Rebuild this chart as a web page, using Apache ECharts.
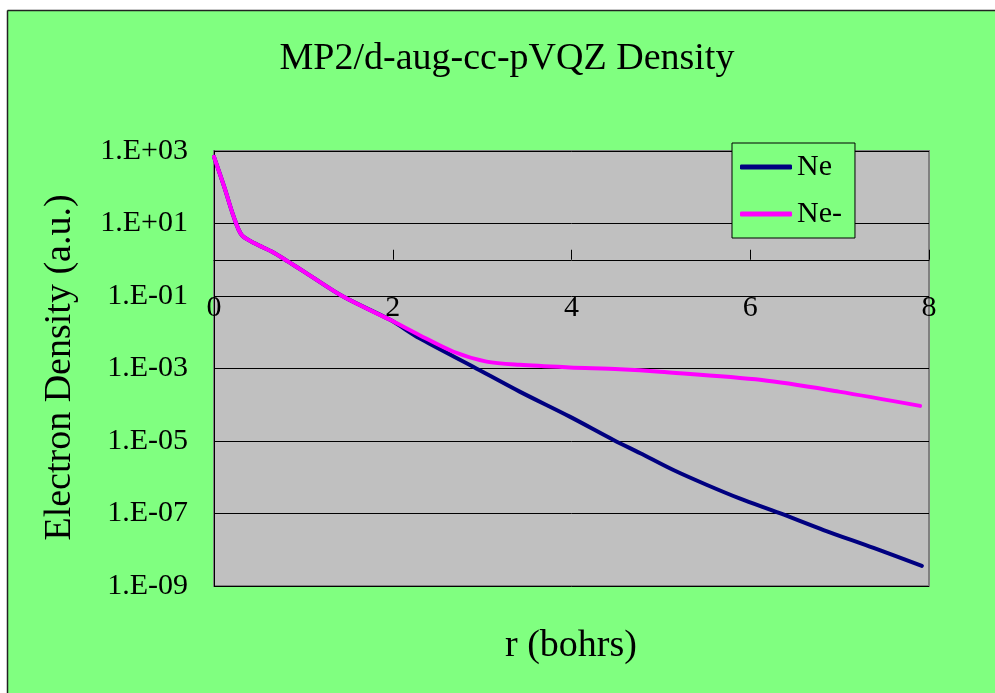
<!DOCTYPE html>
<html>
<head>
<meta charset="utf-8">
<script src="https://cdn.jsdelivr.net/npm/echarts@6/dist/echarts.min.js"></script>
<style>html,body{margin:0;padding:0;background:#fff;}#c{width:995px;height:693px;}</style>
</head>
<body>
<div id="c"></div>
<script>
// Data (r in bohrs, density in a.u.)
var rNe      = [0, 0.12, 0.22, 0.31, 0.46, 0.65, 0.83, 1.02, 1.45, 1.97, 2.3, 2.9, 3.42, 3.98, 4.47, 4.77, 5.14, 5.51, 5.88, 6.33, 6.82, 7.38, 7.92];
var densNe   = [690, 93, 15.5, 4.8, 2.8, 1.66, 0.89, 0.45, 0.095, 0.022, 6.8e-3, 1.12e-3, 2.3e-4, 4.7e-5, 1.07e-5, 4.6e-6, 1.58e-6, 6.2e-7, 2.6e-7, 1.02e-7, 3.5e-8, 1.12e-8, 3.6e-9];
var rNeM     = [0, 0.12, 0.22, 0.31, 0.46, 0.65, 0.83, 1.02, 1.45, 1.97, 2.3, 2.68, 3.05, 3.42, 3.98, 4.54, 4.99, 6.13, 6.99, 7.9];
var densNeM  = [690, 93, 15.5, 4.8, 2.8, 1.66, 0.89, 0.45, 0.095, 0.022, 8.3e-3, 2.9e-3, 1.55e-3, 1.26e-3, 1.07e-3, 9.5e-4, 8.1e-4, 4.8e-4, 2.3e-4, 9.3e-5];
var seriesNames = ['Ne', 'Ne-'];
var xTicks = [0, 2, 4, 6, 8];

var FONT = '"Liberation Serif", "Times New Roman", serif';
function pairs(xs, ys) { return xs.map(function (x, i) { return [x, ys[i]]; }); }

var chart = echarts.init(document.getElementById('c'), null, {renderer: 'canvas'});
chart.setOption({
  backgroundColor: '#80FF80',
  animation: false,
  grid: [
    {left: 214, top: 151, width: 715, height: 435, show: true, backgroundColor: '#C0C0C0', borderColor: '#808080', borderWidth: 2},
    {left: 214, top: 151, width: 715, height: 108.75, show: false}
  ],
  xAxis: [
    {type: 'value', gridIndex: 0, min: xTicks[0], max: xTicks[xTicks.length - 1], interval: 2, show: false},
    {type: 'value', gridIndex: 1, min: xTicks[0], max: xTicks[xTicks.length - 1], interval: 2, position: 'bottom',
     axisLine: {show: true, lineStyle: {color: '#000', width: 1}},
     axisTick: {show: true, inside: true, length: 10, lineStyle: {color: '#000'}},
     axisLabel: {show: true, margin: 33, fontSize: 30, fontFamily: FONT, color: '#000'},
     splitLine: {show: false}}
  ],
  yAxis: [
    {type: 'log', logBase: 10, gridIndex: 0, min: 1e-9, max: 1e3, interval: 2,
     axisLine: {show: true, lineStyle: {color: '#000', width: 1}},
     axisTick: {show: true, inside: true, length: 9, lineStyle: {color: '#000'}},
     axisLabel: {margin: 26, fontSize: 30, fontFamily: FONT, color: '#000', padding: [4, 0, 0, 0],
       formatter: function (v) {
         var e = Math.round(Math.log10(v));
         var a = Math.abs(e);
         return '1.E' + (e < 0 ? '-' : '+') + (a < 10 ? '0' : '') + a;
       }},
     splitLine: {show: true, lineStyle: {color: '#000', width: 1}}},
    {type: 'value', gridIndex: 1, show: false, min: 0, max: 1}
  ],
  legend: {
    orient: 'vertical', left: 732, top: 143,
    padding: [9, 13, 9, 8], itemGap: 17, itemWidth: 52, itemHeight: 5, icon: 'roundRect',
    backgroundColor: '#80FF80', borderColor: '#000', borderWidth: 1, borderRadius: 0,
    textStyle: {fontSize: 30, fontFamily: FONT, color: '#000'},
    data: seriesNames, z: 20
  },
  series: [
    {name: seriesNames[0], type: 'line', xAxisIndex: 0, yAxisIndex: 0, data: pairs(rNe, densNe),
     symbol: 'none', smooth: 0.3, z: 3,
     lineStyle: {color: '#000080', width: 4, cap: 'round', join: 'round'}, itemStyle: {color: '#000080'}},
    {name: seriesNames[1], type: 'line', xAxisIndex: 0, yAxisIndex: 0, data: pairs(rNeM, densNeM),
     symbol: 'none', smooth: 0.3, z: 4,
     lineStyle: {color: '#FF00FF', width: 4, cap: 'round', join: 'round'}, itemStyle: {color: '#FF00FF'}}
  ],
  graphic: [
    {type: 'rect', shape: {x: 0, y: 0, width: 995, height: 10}, style: {fill: '#fff'}, silent: true},
    {type: 'rect', shape: {x: 0, y: 0, width: 7, height: 693}, style: {fill: '#fff'}, silent: true},
    {type: 'line', shape: {x1: 7.5, y1: 10.5, x2: 995, y2: 10.5}, style: {stroke: '#222', lineWidth: 1.5}, silent: true},
    {type: 'line', shape: {x1: 7.5, y1: 10.5, x2: 7.5, y2: 693}, style: {stroke: '#222', lineWidth: 1.5}, silent: true},
    {type: 'text', x: 507, y: 59, style: {text: 'MP2/d-aug-cc-pVQZ Density', font: '38px ' + FONT, fill: '#000', textAlign: 'center', textVerticalAlign: 'middle'}},
    {type: 'text', x: 571, y: 646, style: {text: 'r (bohrs)', font: '38px ' + FONT, fill: '#000', textAlign: 'center', textVerticalAlign: 'middle'}},
    {type: 'text', x: 60, y: 367.5, rotation: Math.PI / 2, style: {text: 'Electron Density (a.u.)', font: '38px ' + FONT, fill: '#000', textAlign: 'center', textVerticalAlign: 'middle'}}
  ]
});
</script>
</body>
</html>
